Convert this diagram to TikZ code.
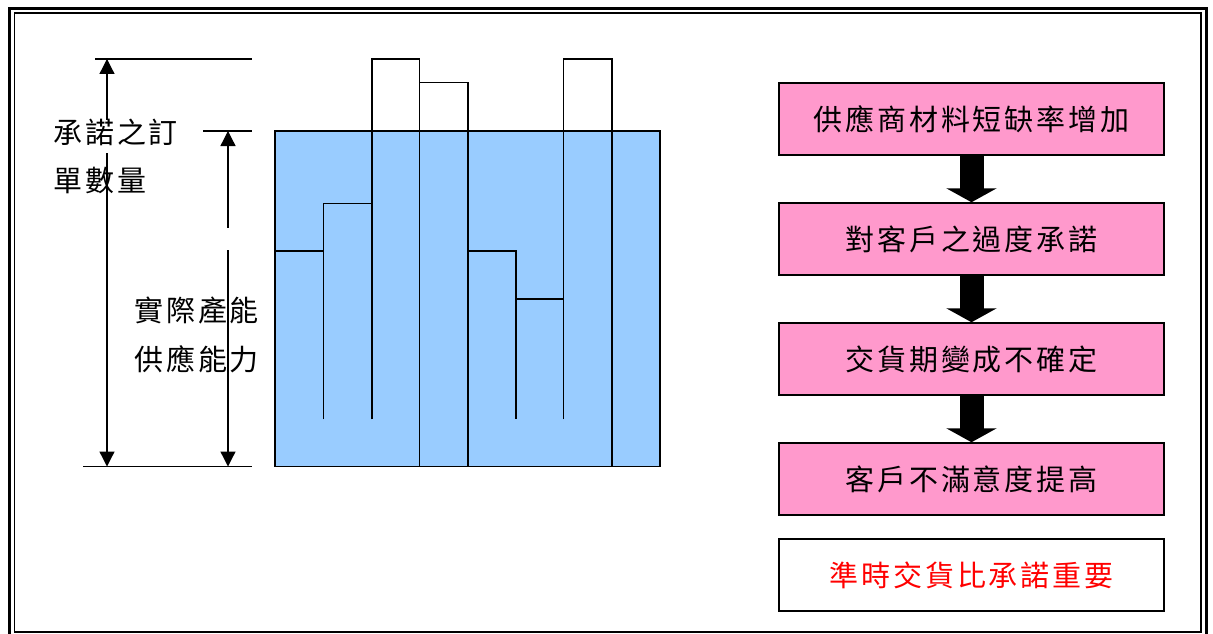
\documentclass[tikz,border=0pt]{standalone}
\usepackage{fontspec}
\newfontfamily\cjk[LetterSpace=10]{Noto Sans CJK TC}
\usetikzlibrary{arrows.meta}
\definecolor{capblue}{HTML}{99CCFF}
\definecolor{flowpink}{HTML}{FF99CC}
\tikzset{
  frameout/.style={draw=black, line width=3pt},
  framein/.style={draw=black, line width=1.6pt},
  chartline/.style={draw=black, line width=1.6pt},
  dimline/.style={draw=black, line width=1.3pt, >={Triangle[width=15pt,length=15pt]}},
  lbl/.style={anchor=west, inner sep=0pt, text=black},
  flowbox/.style={draw=black, line width=1.5pt, fill=flowpink, minimum width=385pt, minimum height=72pt, inner sep=0pt, text=black},
  notebox/.style={draw=black, line width=1.5pt, fill=white, minimum width=385pt, minimum height=72pt, inner sep=0pt, text=red},
  blockarrow/.style={draw=black, line width=24pt, -{Triangle[width=50pt,length=14pt]}},
}
\newcommand{\ls}{\hspace{-0.10em}}
\begin{document}
\begin{tikzpicture}[x=1pt,y=-1pt,font=\cjk\fontsize{29pt}{33pt}\selectfont]
\useasboundingbox (0,0) rectangle (1213,634);
\fill[white] (0,0) rectangle (1213,634);
% frame
\draw[frameout] (9.7,8.5) rectangle (1206.5,637);
\draw[framein] (14.3,13) rectangle (1201,631.7);

% chart
\fill[capblue] (275,131) rectangle (660,466.5);
\draw[chartline] (275,131) rectangle (660,466.5);
\draw[chartline] (275,251) -- (323.3,251);
\draw[chartline] (323.3,419.3) -- (323.3,203.3) -- (371.7,203.3);
\draw[chartline] (371.7,419.3) -- (371.7,59) -- (419.3,59) -- (419.3,466.5);
\draw[chartline] (419.3,82.7) -- (467.7,82.7) -- (467.7,466.5);
\draw[chartline] (467.7,251) -- (515.7,251) -- (515.7,419.3);
\draw[chartline] (515.7,299) -- (563.3,299);
\draw[chartline] (563.3,419.3) -- (563.3,59) -- (611.7,59) -- (611.7,466.5);

% dimension lines
\coordinate (t1l) at (95,59);  \coordinate (t1r) at (252,59);
\coordinate (t2l) at (203,131); \coordinate (t2r) at (252,131);
\coordinate (bl) at (83,466.5); \coordinate (br) at (252,466.5);
\draw[dimline] (t1l) -- (t1r);
\draw[dimline] (t2l) -- (t2r);
\draw[dimline] (bl) -- (br);
\coordinate (a1top) at (107,59); \coordinate (a1g1) at (107,120);
\coordinate (a1g2) at (107,153); \coordinate (a1bot) at (107,466.5);
\coordinate (a2top) at (228,131); \coordinate (a2g1) at (228,228);
\coordinate (a2g2) at (228,250); \coordinate (a2bot) at (228,466.5);
\draw[dimline, <-] (a1top) -- (a1g1);
\draw[dimline, ->] (a1g2) -- (a1bot);
\draw[dimline, <-] (a2top) -- (a2g1);
\draw[dimline, ->] (a2g2) -- (a2bot);

\node[lbl] (l1) at (53,132) {承諾之訂};
\node[lbl] (l2) at (53,180) {單數量};
\node[lbl] (l3) at (134,310) {實際產能};
\node[lbl] (l4) at (134,359) {供應能力};

% flow
\node[flowbox] (b1) at (971.5,119) {供應商材料短缺率增加\ls};
\node[flowbox] (b2) at (971.5,239) {對客戶之過度承諾\ls};
\node[flowbox] (b3) at (971.5,359) {交貨期變成不確定\ls};
\node[flowbox] (b4) at (971.5,479) {客戶不滿意度提高\ls};
\node[notebox] (b5) at (971.5,575) {準時交貨比承諾重要\ls};
\draw[blockarrow] (b1.south) -- (b2.north);
\draw[blockarrow] (b2.south) -- (b3.north);
\draw[blockarrow] (b3.south) -- (b4.north);
\end{tikzpicture}
\end{document}
